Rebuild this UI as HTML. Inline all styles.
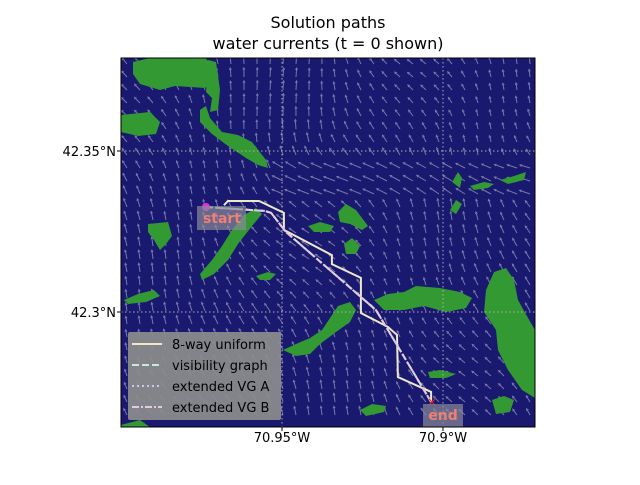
<!DOCTYPE html>
<html><head><meta charset="utf-8"><style>
body{margin:0;background:#fff;width:640px;height:480px;overflow:hidden;font-family:"Liberation Sans","DejaVu Sans",sans-serif}
</style></head><body>
<svg width="640" height="480" viewBox="0 0 640 480" font-family="DejaVu Sans, Liberation Sans, sans-serif">
<text x="328" y="28" text-anchor="middle" font-size="16">Solution paths</text>
<text x="328" y="49" text-anchor="middle" font-size="16">water currents (t = 0 shown)</text>
<defs><clipPath id="pc"><rect x="121" y="58" width="414" height="369"/></clipPath></defs>
<rect x="121" y="58" width="414" height="369" fill="#191970"/>
<g clip-path="url(#pc)">
<g id="quiver"></g>
<g fill="#339933">
<path d="M133,62 L150,58 L205,58 L214,66 L216,80 L205,88 L175,86 L160,90 L140,84 L133,74Z"/>
<path d="M208,60 L216,62 L220,90 L218,110 L210,112 L212,98 L206,92Z"/>
<path d="M200,110 L206,106 L210,118 L222,132 L238,135 L252,142 L266,160 L268,168 L258,165 L246,158 L228,146 L212,134 L200,122Z"/>
<path d="M121,115 L150,112 L160,122 L156,134 L138,136 L121,132Z"/>
<path d="M200,274 L212,260 L222,246 L232,230 L244,215 L256,208 L262,214 L252,226 L238,244 L228,260 L214,274 L202,280Z"/>
<path d="M148,224 L168,222 L172,236 L166,244 L160,250 L154,240 L148,232Z"/>
<path d="M124,300 L138,294 L154,290 L160,296 L146,302 L128,304Z"/>
<path d="M256,276 L268,272 L276,274 L270,280 L260,280Z"/>
<path d="M308,226 L320,222 L334,226 L330,232 L314,232Z"/>
<path d="M338,212 L346,204 L356,210 L368,226 L362,230 L350,224 L340,222Z"/>
<path d="M344,244 L352,238 L360,246 L356,254 L346,254Z"/>
<path d="M283,350 L296,344 L310,338 L322,330 L330,318 L338,306 L350,302 L356,310 L350,322 L336,332 L320,344 L310,354 L296,356Z"/>
<path d="M374,300 L388,294 L404,292 L416,286 L440,288 L460,292 L472,298 L466,308 L446,312 L424,306 L404,310 L384,310Z"/>
<path d="M486,290 L494,272 L506,268 L514,280 L518,300 L528,318 L535,330 L535,398 L522,390 L508,370 L498,350 L496,330 L484,312Z"/>
<path d="M452,182 L458,172 L462,178 L460,188Z"/>
<path d="M470,186 L484,182 L494,184 L488,188 L474,190Z"/>
<path d="M500,180 L514,176 L526,172 L524,180 L508,184Z"/>
<path d="M450,210 L456,200 L462,204 L456,214Z"/>
<path d="M360,410 L372,404 L386,406 L384,412 L366,416Z"/>
<path d="M492,400 L504,396 L514,400 L510,412 L496,414Z"/>
<path d="M428,372 L440,370 L456,374 L446,378 L430,378Z"/>
<path d="M121,425 L140,420 L150,427 L121,427Z"/>
</g>
<g stroke="#b0b0b0" stroke-width="1" stroke-dasharray="1.5,2.5">
<line x1="282" y1="58" x2="282" y2="427"/><line x1="443" y1="58" x2="443" y2="427"/>
<line x1="121" y1="151" x2="535" y2="151"/><line x1="121" y1="312" x2="535" y2="312"/>
</g>
<polyline id="p1" fill="none" stroke="#eee8c8" stroke-width="2"/>
<polyline id="p2" fill="none" stroke="#c8ecd0" stroke-width="2" stroke-dasharray="7,3"/>
<polyline id="p3" fill="none" stroke="#c8c8e8" stroke-width="2" stroke-dasharray="2,3"/>
<polyline id="p4" fill="none" stroke="#e8c8e0" stroke-width="2" stroke-dasharray="7,2,2,2"/>
<circle cx="206" cy="207" r="4" fill="#dd33dd"/>
<text x="427" y="406" fill="#ee2222" font-size="12">×</text>
<rect x="197" y="206" width="49" height="24" fill="#8a8a9a" opacity="0.7"/>
<text x="222" y="223" text-anchor="middle" fill="#f08070" font-size="14" font-weight="bold">start</text>
<rect x="423" y="404" width="40" height="24" fill="#8a8a9a" opacity="0.7"/>
<text x="443" y="420" text-anchor="middle" fill="#f08070" font-size="14" font-weight="bold">end</text>
</g>
<rect x="121" y="58" width="414" height="369" fill="none" stroke="#000" stroke-width="1"/>
<g>
<rect x="128" y="332" width="153" height="88" rx="2" fill="#8c8c8c" opacity="0.92"/>
<line x1="132" y1="344" x2="162" y2="344" stroke="#eee8c8" stroke-width="2"/>
<text x="172" y="349" font-size="13">8-way uniform</text>
<line x1="132" y1="365" x2="162" y2="365" stroke="#c8ecd0" stroke-width="2" stroke-dasharray="7,3"/>
<text x="172" y="370" font-size="13">visibility graph</text>
<line x1="132" y1="386" x2="162" y2="386" stroke="#c8c8e8" stroke-width="2" stroke-dasharray="2,3"/>
<text x="172" y="391" font-size="13">extended VG A</text>
<line x1="132" y1="407" x2="162" y2="407" stroke="#e8c8e0" stroke-width="2" stroke-dasharray="7,2,2,2"/>
<text x="172" y="412" font-size="13">extended VG B</text>
</g>
<g font-size="13">
<text x="116" y="156" text-anchor="end">42.35°N</text>
<text x="116" y="317" text-anchor="end">42.3°N</text>
<text x="282" y="442" text-anchor="middle">70.95°W</text>
<text x="443" y="442" text-anchor="middle">70.9°W</text>
<g stroke="#000"><line x1="117" y1="151" x2="121" y2="151"/><line x1="117" y1="312" x2="121" y2="312"/><line x1="282" y1="427" x2="282" y2="431"/><line x1="443" y1="427" x2="443" y2="431"/></g>
</g>
</svg>
<script>
const lon0=-71.0, lat0=42.3789;
const path8Lon=[-70.9680,-70.9668,-70.9571,-70.9494,-70.9494,-70.9345,-70.9345,-70.9255,-70.9255,-70.9171,-70.9143,-70.9140,-70.9037,-70.9037];
const path8Lat=[42.3332,42.3345,42.3345,42.3308,42.3255,42.3177,42.3149,42.3106,42.2997,42.2954,42.2929,42.2798,42.2752,42.2721];
const pathVLon=[-70.9736,-70.9553,-70.9534,-70.9488,-70.9208,-70.9037];
const pathVLat=[42.3326,42.3314,42.3308,42.3249,42.3006,42.2721];
function sx(lon){return 121+(lon-lon0)*3220;}
function sy(lat){return 58+(lat0-lat)*3220;}
function pts(a,b){return a.map((v,i)=>sx(v).toFixed(1)+','+sy(b[i]).toFixed(1)).join(' ');}
document.getElementById('p1').setAttribute('points',pts(path8Lon,path8Lat));
document.getElementById('p2').setAttribute('points',pts(pathVLon,pathVLat));
document.getElementById('p3').setAttribute('points',pts(pathVLon,pathVLat));
document.getElementById('p4').setAttribute('points',pts(pathVLon,pathVLat));
const q=document.getElementById('quiver');
let s='';
for(let y=64;y<427;y+=13){for(let x=127;x<535;x+=13){
 let u=-0.35+0.25*Math.sin(x/40+y/70), v=-0.8+0.3*Math.cos(x/55-y/45);
 let dx=x-320,dy=y-150;let r=Math.hypot(dx,dy)+20;
 u+=-dy/r*0.9*Math.exp(-r/90); v+=dx/r*0.9*Math.exp(-r/90);
 if(y>165&&y<200&&x>280)u-=1.2;
 let m=Math.hypot(u,v)||1;let L=Math.min(10,3+m*3.5);
 let ux=u/m,uy=v/m;
 let ex=x+ux*L, ey=y+uy*L;
 s+=`<line x1="${x}" y1="${y}" x2="${ex.toFixed(1)}" y2="${ey.toFixed(1)}"/>`;
 s+=`<polygon points="${(ex+ux*3).toFixed(1)},${(ey+uy*3).toFixed(1)} ${(ex-uy*1.5).toFixed(1)},${(ey+ux*1.5).toFixed(1)} ${(ex+uy*1.5).toFixed(1)},${(ey-ux*1.5).toFixed(1)}" stroke="none" fill="#b8b8d0"/>`;
}}
q.innerHTML=s;
q.setAttribute('stroke','#b8b8d0');q.setAttribute('stroke-width','1');q.setAttribute('opacity','0.6');
</script>
</body></html>
